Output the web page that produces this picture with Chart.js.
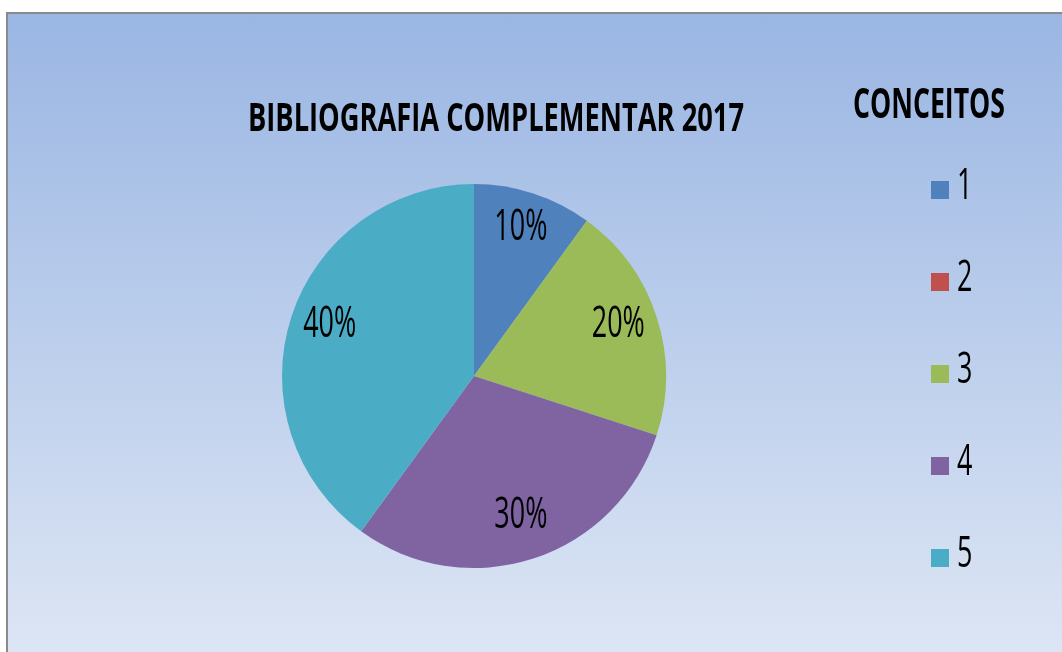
<!DOCTYPE html>
<html>
<head>
<meta charset="utf-8">
<script src="https://cdn.jsdelivr.net/npm/chart.js@4/dist/chart.umd.min.js"></script>
<style>
  html, body { margin: 0; padding: 0; width: 1062px; height: 652px; overflow: hidden; background: #fff; }
  #frame {
    position: absolute; left: 6px; top: 12px; width: 1100px; height: 660px;
    border-left: 2px solid #8a8a8a; border-top: 2px solid #8a8a8a;
    background: linear-gradient(to bottom, #9ab6e3 0%, #dfe7f5 100%);
  }
  #wrap { position: absolute; left: 0; top: 0; width: 1062px; height: 652px; }
</style>
</head>
<body>
<div id="frame"></div>
<div id="wrap"><canvas id="pieChart" width="1062" height="652"></canvas></div>
<script>
const chartTitle = "BIBLIOGRAFIA COMPLEMENTAR 2017";
const legendTitle = "CONCEITOS";
const categories = ["1", "2", "3", "4", "5"];
const percentValues = [10, 0, 20, 30, 40];
const sliceColors = ["#4f81bd", "#c0504d", "#9bbb59", "#8064a2", "#4bacc6"];

const FONT = "'Open Sans', 'Liberation Sans', sans-serif";

// draw text squeezed horizontally so it looks like the condensed original
function drawFitted(ctx, text, x, y, font, width, align) {
  ctx.save();
  ctx.font = font;
  const w = ctx.measureText(text).width;
  const sx = width / w;
  ctx.translate(x, y);
  ctx.scale(sx, 1);
  ctx.textAlign = align || "center";
  ctx.textBaseline = "alphabetic";
  ctx.fillStyle = "#000";
  ctx.fillText(text, 0, 0);
  ctx.restore();
  return sx;
}

const textPlugin = {
  id: "textPlugin",
  afterDraw(chart) {
    const ctx = chart.ctx;

    // titles
    drawFitted(ctx, chartTitle, 496, 131, "bold 39px " + FONT, 496);
    drawFitted(ctx, legendTitle, 929, 118, "bold 41px " + FONT, 152);

    // percentage labels on slices
    const meta = chart.getDatasetMeta(0);
    const numFont = "43px " + FONT;
    ctx.font = numFont;
    const sx = 53 / ctx.measureText("10%").width;
    meta.data.forEach((arc, i) => {
      const v = percentValues[i];
      if (!v) return;
      const p = arc.getProps(["x", "y", "startAngle", "endAngle", "outerRadius"], true);
      const mid = (p.startAngle + p.endAngle) / 2;
      const r = p.outerRadius * 0.79;
      const cx = p.x + Math.cos(mid) * r;
      const cy = p.y + Math.sin(mid) * r;
      ctx.save();
      ctx.font = numFont;
      ctx.translate(cx, cy + 8);
      ctx.scale(sx, 1);
      ctx.textAlign = "center";
      ctx.textBaseline = "alphabetic";
      ctx.fillStyle = "#000";
      ctx.fillText(v + "%", 0, 0);
      ctx.restore();
    });

    // legend
    categories.forEach((label, i) => {
      const yc = 190 + i * 92;
      ctx.fillStyle = sliceColors[i];
      ctx.fillRect(931, yc - 9, 18, 18);
      ctx.save();
      ctx.font = numFont;
      ctx.translate(957, yc + 9);
      ctx.scale(sx, 1);
      ctx.textAlign = "left";
      ctx.textBaseline = "alphabetic";
      ctx.fillStyle = "#000";
      ctx.fillText(label, 0, 0);
      ctx.restore();
    });
  }
};

new Chart(document.getElementById("pieChart"), {
  type: "pie",
  data: {
    labels: categories,
    datasets: [{
      data: percentValues,
      backgroundColor: sliceColors,
      borderWidth: 0
    }]
  },
  options: {
    responsive: false,
    animation: false,
    layout: { padding: { left: 282, right: 396, top: 184, bottom: 84 } },
    plugins: {
      legend: { display: false },
      tooltip: { enabled: false },
      title: { display: false }
    }
  },
  plugins: [textPlugin]
});
</script>
</body>
</html>
